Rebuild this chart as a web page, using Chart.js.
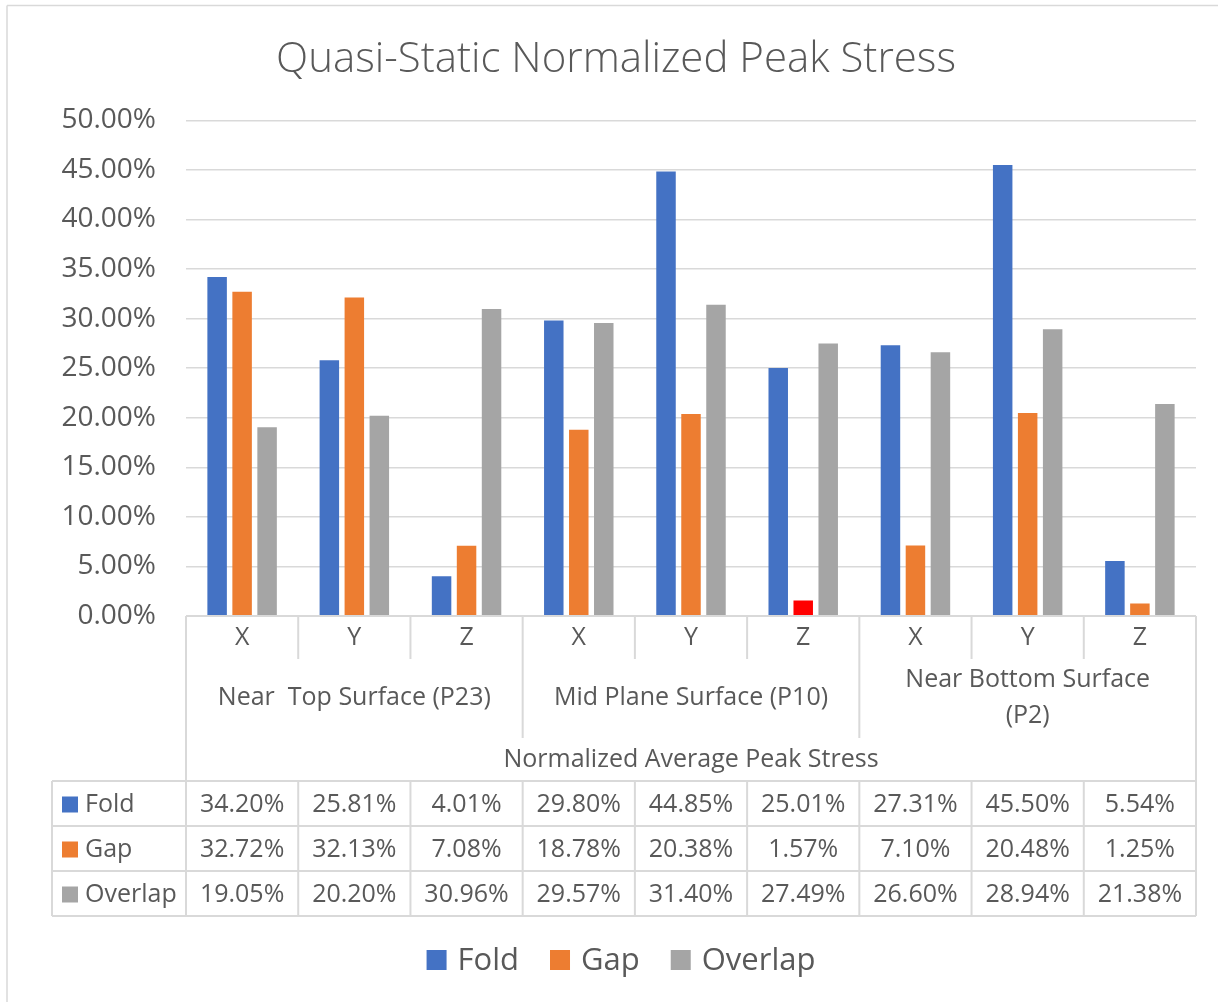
<!DOCTYPE html>
<html>
<head>
<meta charset="utf-8">
<script src="https://cdn.jsdelivr.net/npm/chart.js@4/dist/chart.umd.min.js"></script>
<style>
  html, body { margin: 0; padding: 0; background: #ffffff; }
  #wrap { width: 1218px; height: 1002px; position: relative; }
</style>
</head>
<body>
<div id="wrap"><canvas id="c"></canvas></div>
<script>
// ---- data ----
const categories = ['X', 'Y', 'Z', 'X', 'Y', 'Z', 'X', 'Y', 'Z'];
const groupLabels = [['Near  Top Surface (P23)'], ['Mid Plane Surface (P10)'], ['Near Bottom Surface', '(P2)']];
const axisTitle = 'Normalized Average Peak Stress';
const chartTitle = 'Quasi-Static Normalized Peak Stress';
const seriesNames = ['Fold', 'Gap', 'Overlap'];
const foldValues = [34.20, 25.81, 4.01, 29.80, 44.85, 25.01, 27.31, 45.50, 5.54];
const gapValues = [32.72, 32.13, 7.08, 18.78, 20.38, 1.57, 7.10, 20.48, 1.25];
const overlapValues = [19.05, 20.20, 30.96, 29.57, 31.40, 27.49, 26.60, 28.94, 21.38];
const yTickValues = [0, 5, 10, 15, 20, 25, 30, 35, 40, 45, 50];
const highlightedGapIndex = 5;

// ---- styles ----
const COLORS = { fold: '#4472C4', gap: '#ED7D31', overlap: '#A5A5A5', red: '#FF0000' };
const seriesColors = [COLORS.fold, COLORS.gap, COLORS.overlap];
const TEXT = '#595959';
const LINE = '#D9D9D9';
const FONT = '"Open Sans", "Noto Sans", sans-serif';
const fmt = v => v.toFixed(2) + '%';

const tablePlugin = {
  id: 'tablePlugin',
  beforeDraw(chart) {
    const ctx = chart.ctx;
    ctx.save();
    ctx.fillStyle = '#ffffff';
    ctx.fillRect(0, 0, chart.width, chart.height);
    ctx.strokeStyle = LINE;
    ctx.lineWidth = 1.5;
    ctx.beginPath();
    ctx.moveTo(7, 5.5); ctx.lineTo(chart.width, 5.5);
    ctx.moveTo(7, 5.5); ctx.lineTo(7, chart.height);
    ctx.stroke();
    ctx.restore();
  },
  afterDraw(chart) {
    const ctx = chart.ctx;
    const xs = chart.scales.x;
    const area = chart.chartArea;
    const n = categories.length;
    const w = (area.right - area.left) / n;
    const bx = i => area.left + i * w;
    const top = area.bottom;
    const yCatBottom = top + 43;
    const yGroupBottom = top + 122;
    const yRow0 = top + 165;
    const rowH = 45;
    const yEnd = yRow0 + rowH * 3;
    const leftCol = 52;

    ctx.save();
    ctx.strokeStyle = LINE;
    ctx.lineWidth = 2;
    ctx.beginPath();
    ctx.moveTo(area.left, top); ctx.lineTo(area.right, top);
    ctx.moveTo(area.left, top); ctx.lineTo(area.left, yEnd);
    ctx.moveTo(area.right, top); ctx.lineTo(area.right, yEnd);
    for (let i = 1; i < n; i++) {
      const x = bx(i);
      ctx.moveTo(x, top);
      ctx.lineTo(x, (i % 3 === 0) ? yGroupBottom : yCatBottom);
    }
    for (let r = 0; r <= 3; r++) {
      const y = yRow0 + r * rowH;
      ctx.moveTo(leftCol, y); ctx.lineTo(area.right, y);
    }
    ctx.moveTo(leftCol, yRow0); ctx.lineTo(leftCol, yEnd);
    for (let i = 1; i < n; i++) {
      ctx.moveTo(bx(i), yRow0); ctx.lineTo(bx(i), yEnd);
    }
    ctx.stroke();

    ctx.fillStyle = TEXT;
    ctx.textAlign = 'center';
    ctx.textBaseline = 'middle';
    ctx.font = '25px ' + FONT;
    categories.forEach((c, i) => {
      ctx.fillText(c, xs.getPixelForValue(i), top + 22);
    });
    groupLabels.forEach((lines, g) => {
      const cx = (bx(g * 3) + bx(g * 3 + 3)) / 2;
      if (lines.length === 1) {
        ctx.fillText(lines[0], cx, top + 82);
      } else {
        ctx.fillText(lines[0], cx, top + 64);
        ctx.fillText(lines[1], cx, top + 100);
      }
    });
    ctx.fillText(axisTitle, (area.left + area.right) / 2, top + 144);

    const series = [foldValues, gapValues, overlapValues];
    series.forEach((vals, r) => {
      const cy = yRow0 + r * rowH + rowH / 2 + 1;
      ctx.fillStyle = seriesColors[r];
      ctx.fillRect(62, cy - 8, 16, 16);
      ctx.fillStyle = TEXT;
      ctx.textAlign = 'left';
      ctx.fillText(seriesNames[r], 85, cy);
      ctx.textAlign = 'center';
      vals.forEach((v, i) => {
        ctx.fillText(fmt(v), xs.getPixelForValue(i), cy);
      });
    });

    // legend
    ctx.font = '31px ' + FONT;
    const box = 20, gapTxt = 11, spacing = 31;
    const widths = seriesNames.map(s => box + gapTxt + ctx.measureText(s).width);
    const total = widths.reduce((a, b) => a + b, 0) + spacing * (seriesNames.length - 1);
    let x = 621 - total / 2;
    const ly = 960;
    seriesNames.forEach((s, i) => {
      ctx.fillStyle = seriesColors[i];
      ctx.fillRect(x, ly - box / 2, box, box);
      ctx.fillStyle = TEXT;
      ctx.textAlign = 'left';
      ctx.fillText(s, x + box + gapTxt, ly + 1);
      x += widths[i] + spacing;
    });
    ctx.restore();
  }
};

new Chart(document.getElementById('c'), {
  type: 'bar',
  data: {
    labels: categories,
    datasets: [
      { label: seriesNames[0], data: foldValues, backgroundColor: COLORS.fold },
      { label: seriesNames[1], data: gapValues,
        backgroundColor: ctx => (ctx.dataIndex === highlightedGapIndex ? COLORS.red : COLORS.gap) },
      { label: seriesNames[2], data: overlapValues, backgroundColor: COLORS.overlap }
    ]
  },
  options: {
    responsive: true,
    maintainAspectRatio: false,
    animation: false,
    devicePixelRatio: 1,
    categoryPercentage: 0.668,
    barPercentage: 0.78,
    layout: { padding: { left: 36, right: 22, top: 0, bottom: 86 } },
    plugins: {
      legend: { display: false },
      tooltip: { enabled: false },
      title: {
        display: true,
        text: chartTitle,
        color: TEXT,
        font: { family: FONT, size: 42, weight: '300', lineHeight: 1.2 },
        padding: { top: 35, bottom: 35 }
      }
    },
    scales: {
      x: {
        grid: { display: false },
        border: { display: false },
        ticks: { display: false },
        afterFit: s => { s.height = 300; }
      },
      y: {
        min: 0,
        max: 50,
        afterBuildTicks: s => { s.ticks = yTickValues.map(v => ({ value: v })); },
        afterFit: s => { s.width = 150; },
        grid: { color: LINE, lineWidth: 1.5, drawTicks: false },
        border: { display: false },
        ticks: {
          padding: 30,
          color: TEXT,
          font: { family: FONT, size: 28 },
          callback: v => fmt(v)
        }
      }
    }
  },
  plugins: [tablePlugin]
});
</script>
</body>
</html>
